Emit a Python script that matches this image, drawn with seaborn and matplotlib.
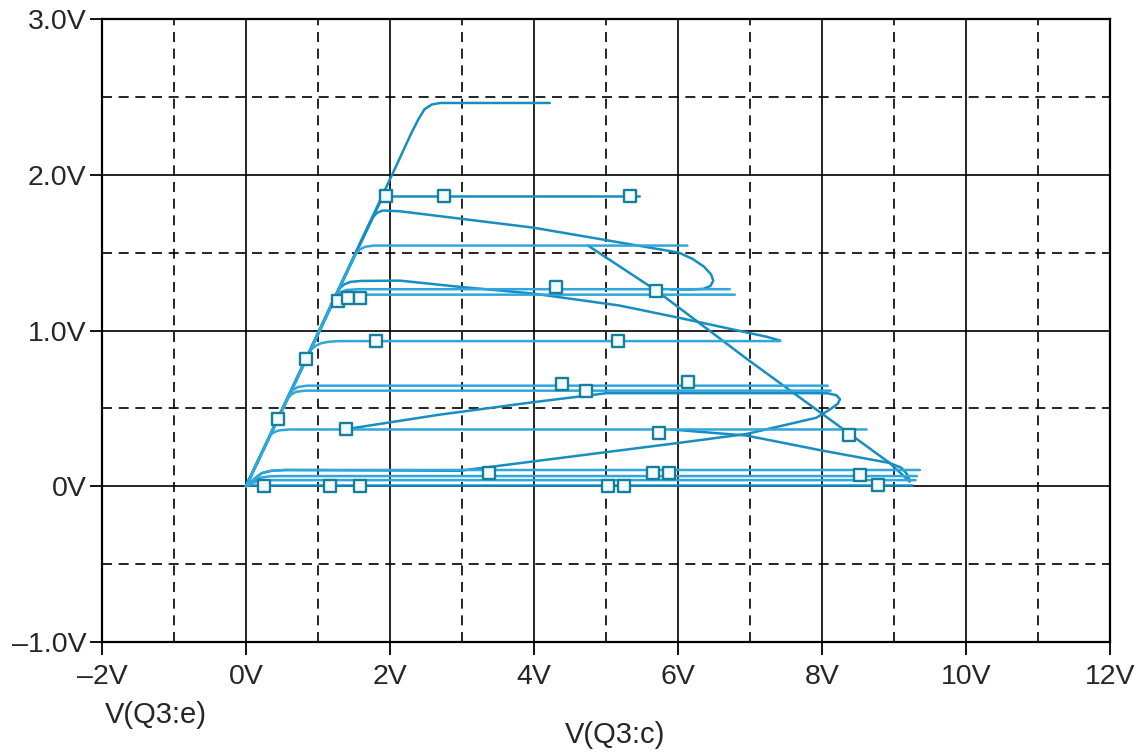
import pandas as pd
import matplotlib
matplotlib.use("Agg")
import matplotlib.pyplot as plt
from matplotlib.ticker import MultipleLocator, FixedLocator
import seaborn as sns

sns.set_theme(style="white")
plt.rcParams["font.family"] = ["Liberation Sans", "DejaVu Sans"]

# --- traces: x = V(Q3:c), y = V(Q3:e) ---
top_x = [0, 2.05, 2.30, 2.40, 2.48, 2.58, 2.70, 4.22]
top_y = [0, 2.02, 2.27, 2.36, 2.42, 2.45, 2.46, 2.46]

l186_x = [0, 1.86, 1.95, 5.47]
l186_y = [0, 1.82, 1.86, 1.86]

l177_x = [0, 1.75, 1.82, 1.90, 2.14, 3.99, 5.19, 6.01, 6.20, 6.36, 6.46, 6.49, 6.45, 6.35, 6.15, 5.90]
l177_y = [0, 1.72, 1.755, 1.77, 1.765, 1.66, 1.565, 1.50, 1.46, 1.41, 1.36, 1.32, 1.285, 1.267, 1.263, 1.263]

l155_x = [0, 1.52, 1.58, 1.66, 1.78, 6.13]
l155_y = [0, 1.49, 1.52, 1.538, 1.545, 1.545]

diag_x = [4.75, 5.70, 6.95, 7.90, 8.94, 9.22]
diag_y = [1.545, 1.256, 0.82, 0.50, 0.15, 0.03]

l132_x = [0, 1.30, 1.36, 1.45, 1.60, 2.14, 2.97, 3.99, 5.19, 6.03, 7.23, 7.42]
l132_y = [0, 1.27, 1.295, 1.312, 1.318, 1.32, 1.28, 1.237, 1.16, 1.08, 0.96, 0.935]

l127_x = [0, 1.25, 1.31, 1.40, 1.55, 6.72]
l127_y = [0, 1.22, 1.245, 1.26, 1.265, 1.265]

l123_x = [0, 1.22, 1.28, 1.36, 1.50, 6.79]
l123_y = [0, 1.19, 1.213, 1.226, 1.23, 1.23]

l093_x = [0, 0.90, 0.96, 1.04, 1.14, 1.28, 7.42]
l093_y = [0, 0.875, 0.90, 0.918, 0.927, 0.932, 0.932]

l065_x = [0, 0.60, 0.65, 0.72, 0.84, 8.08]
l065_y = [0, 0.59, 0.618, 0.637, 0.646, 0.646]

l061_x = [0, 0.58, 0.63, 0.70, 0.82, 8.12]
l061_y = [0, 0.565, 0.590, 0.607, 0.614, 0.614]

l037_x = [0, 0.34, 0.39, 0.46, 0.60, 8.62]
l037_y = [0, 0.33, 0.348, 0.359, 0.365, 0.365]

loop_x = [0, 0.12, 0.22, 0.35, 0.55, 2.97, 4.50, 6.03, 6.95, 7.92, 8.10, 8.22, 8.25, 8.20, 8.08, 7.90, 5.01, 3.99, 2.69, 1.50]
loop_y = [0, 0.05, 0.085, 0.10, 0.105, 0.10, 0.19, 0.28, 0.336, 0.44, 0.49, 0.53, 0.56, 0.585, 0.597, 0.598, 0.598, 0.54, 0.46, 0.375]

fall_x = [5.90, 6.95, 8.01, 8.94, 9.10, 9.18, 9.22]
fall_y = [0.365, 0.326, 0.229, 0.15, 0.12, 0.08, 0.036]

l010_x = [0, 0.12, 0.22, 0.35, 0.55, 9.36]
l010_y = [0, 0.05, 0.085, 0.10, 0.105, 0.105]

l007_x = [0, 0.10, 0.20, 0.32, 0.45, 9.32]
l007_y = [0, 0.035, 0.055, 0.064, 0.066, 0.066]

l004_x = [0, 0.08, 0.16, 0.26, 0.38, 9.30]
l004_y = [0, 0.02, 0.032, 0.038, 0.04, 0.04]

l000_x = [0, 9.25]
l000_y = [0.006, 0.006]

# square trace markers
marker_x = [1.95, 2.75, 5.33, 1.28, 1.42, 1.58, 4.31, 5.70, 0.84, 1.81, 5.16,
            4.39, 4.72, 6.14, 0.45, 1.39, 5.73, 8.37, 3.37, 5.65, 5.87, 8.53,
            0.25, 1.17, 1.58, 5.03, 5.25, 8.78]
marker_y = [1.86, 1.86, 1.86, 1.19, 1.21, 1.21, 1.276, 1.256, 0.82, 0.935, 0.93,
            0.655, 0.61, 0.667, 0.43, 0.369, 0.343, 0.33, 0.088, 0.088, 0.088, 0.07,
            0.005, 0.005, 0.005, 0.005, 0.005, 0.008]

x_ticks = [-2, 0, 2, 4, 6, 8, 10, 12]
x_labels = ["\u20132V", "0V", "2V", "4V", "6V", "8V", "10V", "12V"]
y_ticks = [-1, 0, 1, 2, 3]
y_labels = ["\u20131.0V", "0V", "1.0V", "2.0V", "3.0V"]

traces = [
    ("top", top_x, top_y, "dark"), ("l186", l186_x, l186_y, "dark"),
    ("l177", l177_x, l177_y, "dark"), ("l155", l155_x, l155_y, "light"),
    ("diag", diag_x, diag_y, "dark"), ("l132", l132_x, l132_y, "dark"),
    ("l127", l127_x, l127_y, "light"), ("l123", l123_x, l123_y, "light"),
    ("l093", l093_x, l093_y, "light"), ("l065", l065_x, l065_y, "light"),
    ("l061", l061_x, l061_y, "light"), ("l037", l037_x, l037_y, "light"),
    ("loop", loop_x, loop_y, "dark"), ("fall", fall_x, fall_y, "dark"),
    ("l010", l010_x, l010_y, "light"), ("l007", l007_x, l007_y, "light"),
    ("l004", l004_x, l004_y, "light"), ("l000", l000_x, l000_y, "dark"),
]
rows = []
for name, xs, ys, shade in traces:
    for i, (x, y) in enumerate(zip(xs, ys)):
        rows.append({"trace": name, "step": i, "x": x, "y": y, "shade": shade})
df = pd.DataFrame(rows)

fig = plt.figure(figsize=(11.41, 7.52), dpi=100)
ax = fig.add_axes([0.0894, 0.146, 0.8834, 0.829])

ax.set_xlim(-2, 12)
ax.set_ylim(-1, 3)
ax.xaxis.set_major_locator(FixedLocator(x_ticks))
ax.yaxis.set_major_locator(FixedLocator(y_ticks))
ax.xaxis.set_minor_locator(MultipleLocator(1))
ax.yaxis.set_minor_locator(MultipleLocator(0.5))
ax.grid(which="major", color="black", lw=1.2, ls="-")
ax.grid(which="minor", color="black", lw=1.2, ls=(0, (6, 4)))
ax.set_axisbelow(True)

sns.lineplot(data=df, x="x", y="y", units="trace", estimator=None, sort=False,
             hue="shade", palette={"dark": "#168ec2", "light": "#2fa6dc"},
             legend=False, lw=1.8, ax=ax, zorder=3)
sns.scatterplot(x=marker_x, y=marker_y, marker="s", s=85, color="#f4fbff",
                edgecolor="#167f9c", linewidth=1.7, ax=ax, zorder=5)

ax.set_xticks(x_ticks)
ax.set_xticklabels(x_labels)
ax.set_yticks(y_ticks)
ax.set_yticklabels(y_labels)
ax.tick_params(which="major", direction="out", length=9, width=1.3, color="black",
               labelsize=20.5, bottom=True, left=True)
ax.tick_params(axis="x", pad=7)
ax.tick_params(axis="y", pad=2)
ax.tick_params(which="minor", length=0)
ax.set_xlabel("")
ax.set_ylabel("")
for s in ax.spines.values():
    s.set_color("black")
    s.set_linewidth(1.6)

fig.text(0.092, 0.049, "V(Q3:e)", fontsize=21, va="center", ha="left")
fig.text(0.539, 0.022, "V(Q3:c)", fontsize=21, va="center", ha="center")

fig.savefig("out.png", dpi=100, facecolor="white")
